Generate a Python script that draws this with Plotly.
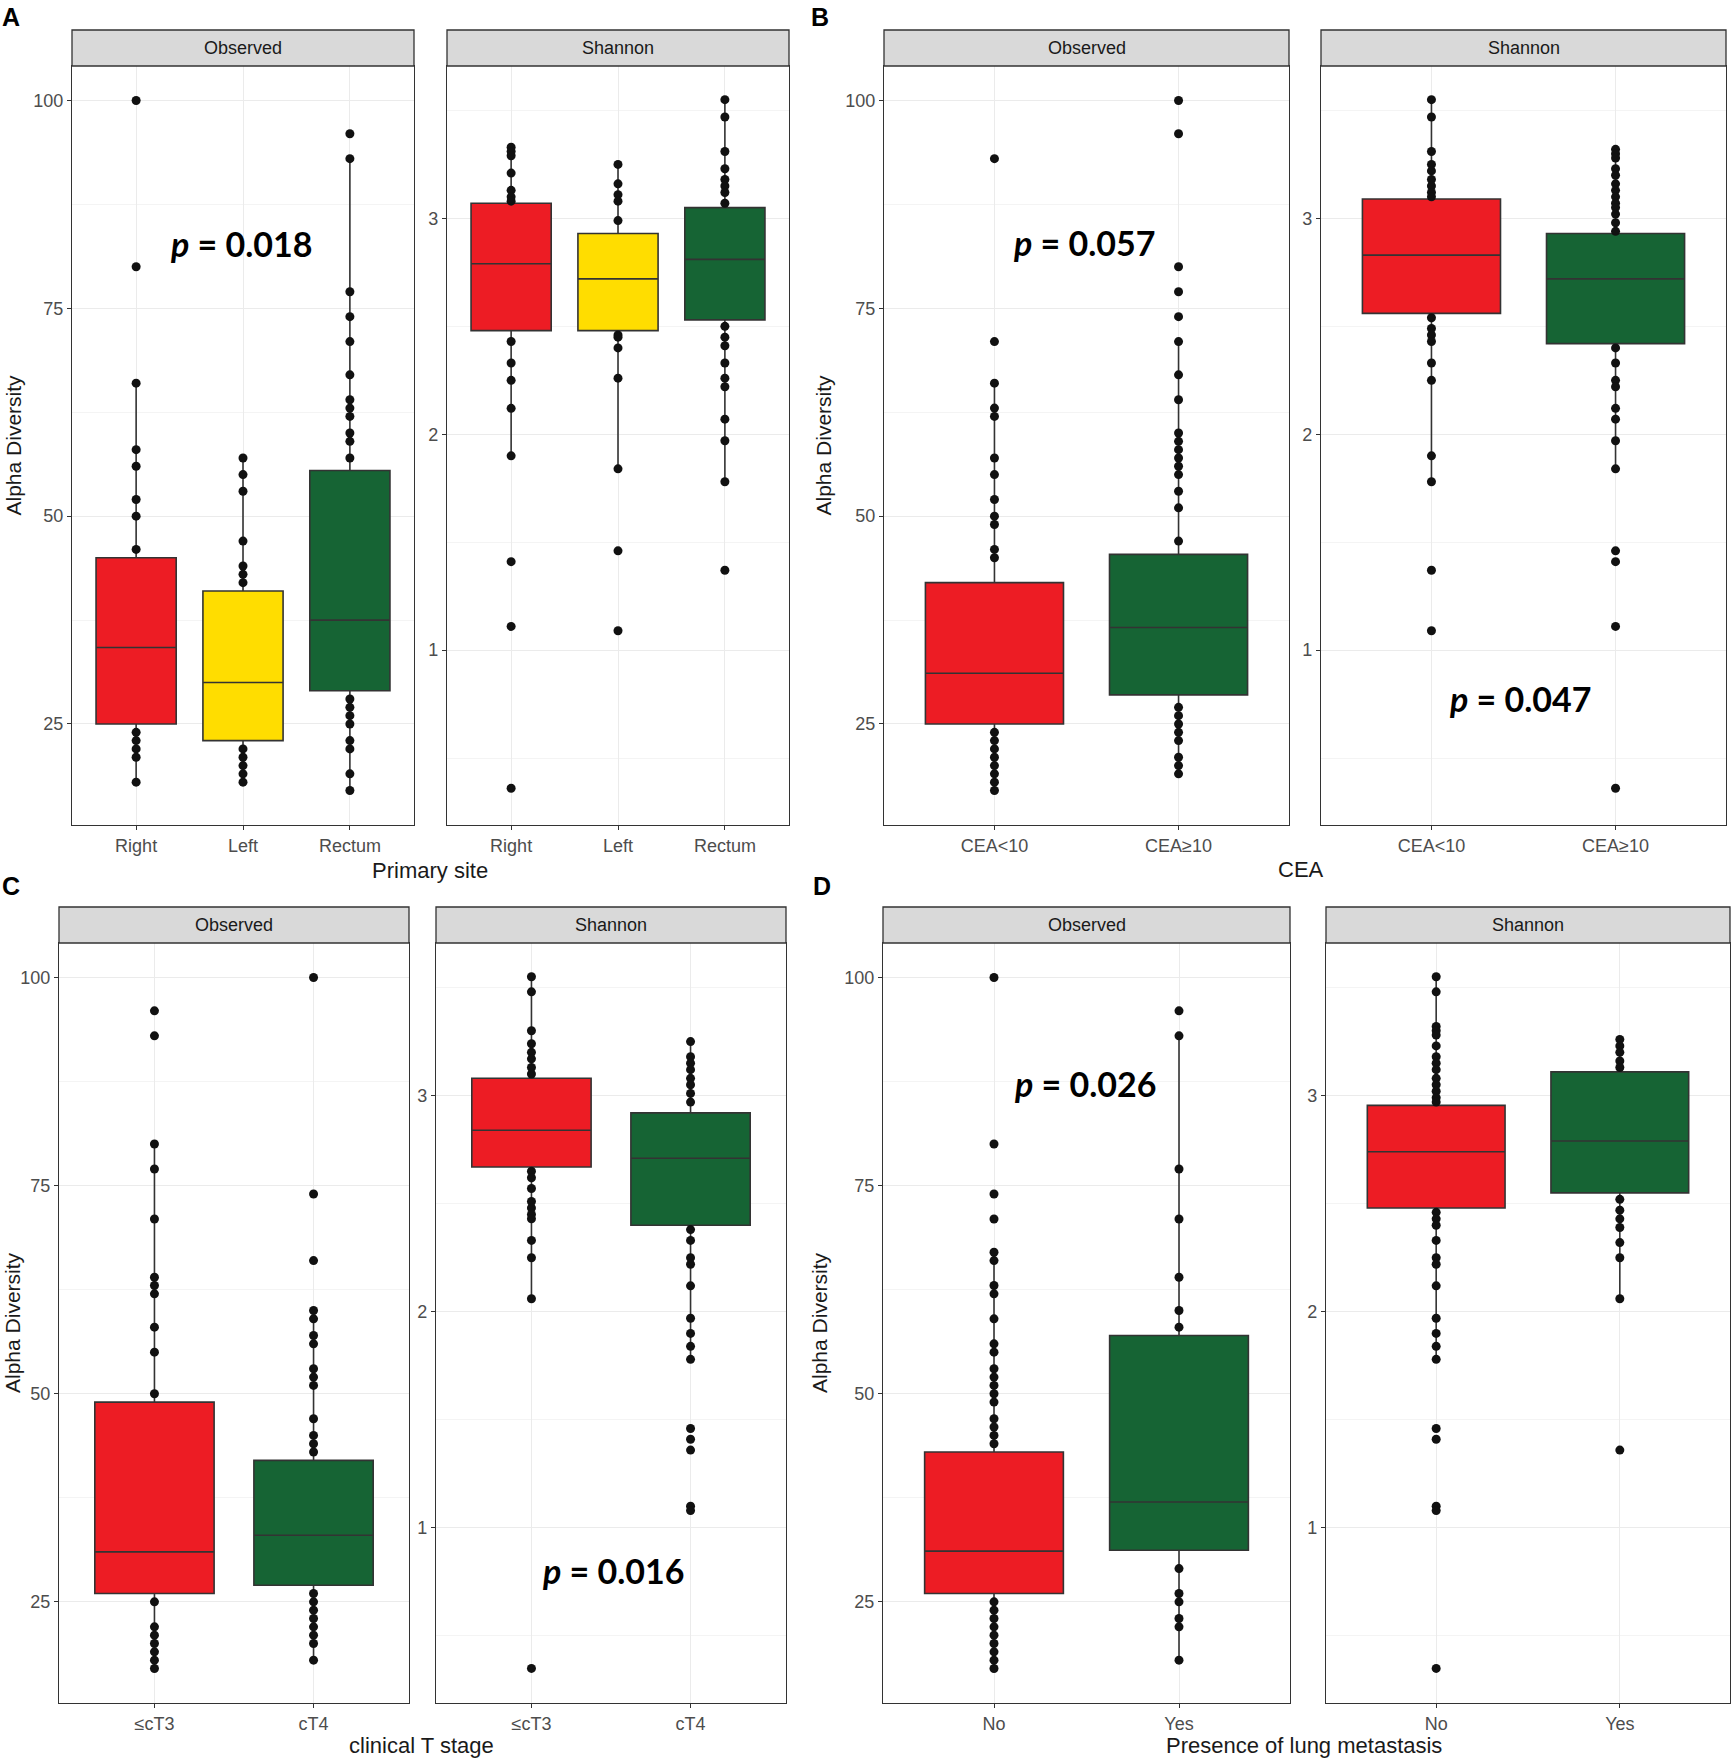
import plotly.graph_objects as go

# ---- data ----
# A: Primary site
a_cats = ["Right", "Left", "Rectum"]
a_obs_q1 = [25, 23, 29]
a_obs_med = [34.2, 30, 37.5]
a_obs_q3 = [45, 41, 55.5]
a_obs_lo = [18, 18, 17]
a_obs_hi = [66, 57, 93]
a_obs_pts = [
    [100, 80, 66, 58, 56, 52, 50, 46, 24, 23, 22, 21, 18],
    [57, 55, 53, 47, 44, 43, 42, 22, 21, 20, 19, 18],
    [96, 93, 77, 74, 71, 67, 64, 63, 62, 60, 59, 57, 28, 27, 26, 25, 23, 22, 19, 17],
]
a_sha_q1 = [2.48, 2.48, 2.53]
a_sha_med = [2.79, 2.72, 2.81]
a_sha_q3 = [3.07, 2.93, 3.05]
a_sha_lo = [1.90, 1.84, 1.78]
a_sha_hi = [3.33, 3.25, 3.55]
a_sha_pts = [
    [3.33, 3.31, 3.29, 3.21, 3.13, 3.10, 3.08, 2.43, 2.33, 2.25, 2.12, 1.90, 1.41, 1.11, 0.36],
    [3.25, 3.16, 3.11, 3.08, 2.99, 2.46, 2.45, 2.40, 2.26, 1.84, 1.46, 1.09],
    [3.55, 3.47, 3.31, 3.23, 3.18, 3.15, 3.12, 3.07, 2.50, 2.45, 2.41, 2.33, 2.26, 2.22,
     2.07, 1.97, 1.78, 1.37],
]

# B: CEA
b_cats = ["CEA<10", "CEA≥10"]
b_obs_q1 = [25, 28.5]
b_obs_med = [31.1, 36.6]
b_obs_q3 = [42, 45.4]
b_obs_lo = [17, 19]
b_obs_hi = [66, 71]
b_obs_pts = [
    [93, 71, 66, 63, 62, 57, 55, 52, 50, 49, 46, 45, 24, 23, 22, 21, 20, 19, 18, 17],
    [100, 96, 80, 77, 74, 71, 67, 64, 60, 59, 58, 57, 56, 55, 53, 51, 47, 27, 26, 25, 24,
     23, 21, 20, 19],
]
b_sha_q1 = [2.56, 2.42]
b_sha_med = [2.83, 2.72]
b_sha_q3 = [3.09, 2.93]
b_sha_lo = [1.78, 1.84]
b_sha_hi = [3.55, 3.32]
b_sha_pts = [
    [3.55, 3.47, 3.31, 3.25, 3.22, 3.18, 3.15, 3.12, 3.10, 2.54, 2.49, 2.46, 2.43, 2.33,
     2.25, 1.90, 1.78, 1.37, 1.09],
    [3.32, 3.30, 3.28, 3.23, 3.20, 3.16, 3.13, 3.10, 3.07, 3.05, 3.02, 2.98, 2.94, 2.40,
     2.33, 2.25, 2.22, 2.12, 2.07, 1.97, 1.84, 1.46, 1.41, 1.11, 0.36],
]

# C: clinical T stage
c_cats = ["≤cT3", "cT4"]
c_obs_q1 = [26, 27]
c_obs_med = [31, 33]
c_obs_q3 = [49, 42]
c_obs_lo = [17, 18]
c_obs_hi = [80, 60]
c_obs_pts = [
    [96, 93, 80, 77, 71, 64, 63, 62, 58, 55, 50, 25, 22, 21, 20, 19, 18, 17],
    [100, 74, 66, 60, 59, 57, 56, 53, 52, 51, 47, 45, 44, 43, 26, 25, 24, 23, 22, 21, 20, 18],
]
c_sha_q1 = [2.67, 2.40]
c_sha_med = [2.84, 2.71]
c_sha_q3 = [3.08, 2.92]
c_sha_lo = [2.06, 1.78]
c_sha_hi = [3.55, 3.25]
c_sha_pts = [
    [3.55, 3.48, 3.30, 3.24, 3.20, 3.17, 3.13, 3.10, 2.65, 2.62, 2.57, 2.51, 2.48, 2.45,
     2.43, 2.33, 2.25, 2.06, 0.35],
    [3.25, 3.18, 3.15, 3.12, 3.08, 3.05, 3.01, 2.97, 2.38, 2.33, 2.25, 2.22, 2.12, 1.97,
     1.90, 1.84, 1.78, 1.46, 1.41, 1.36, 1.10, 1.08],
]

# D: lung metastasis
d_cats = ["No", "Yes"]
d_obs_q1 = [26, 31.2]
d_obs_med = [31.1, 37]
d_obs_q3 = [43, 57]
d_obs_lo = [17, 18]
d_obs_hi = [67, 93]
d_obs_pts = [
    [100, 80, 74, 71, 67, 66, 63, 62, 59, 56, 55, 53, 52, 51, 50, 49, 47, 46, 45, 44, 25,
     24, 23, 22, 21, 20, 19, 18, 17],
    [96, 93, 77, 71, 64, 60, 58, 29, 26, 25, 23, 22, 18],
]
d_sha_q1 = [2.48, 2.55]
d_sha_med = [2.74, 2.79]
d_sha_q3 = [2.955, 3.11]
d_sha_lo = [1.78, 2.06]
d_sha_hi = [3.55, 3.26]
d_sha_pts = [
    [3.55, 3.48, 3.32, 3.30, 3.28, 3.23, 3.18, 3.15, 3.12, 3.08, 3.05, 3.02, 2.99, 2.97,
     2.46, 2.43, 2.40, 2.33, 2.25, 2.22, 2.12, 1.97, 1.90, 1.84, 1.78, 1.46, 1.41, 1.10,
     1.08, 0.35],
    [3.26, 3.23, 3.20, 3.16, 3.13, 2.52, 2.47, 2.43, 2.39, 2.32, 2.25, 2.06, 1.36],
]

p_labels = ["0.018", "0.057", "0.047", "0.016", "0.026"]
x_titles = ["Primary site", "CEA", "clinical T stage", "Presence of lung metastasis"]

RED, YELLOW, GREEN = "#ED1C24", "#FFDD00", "#166434"

# ---- layout geometry (pixels of the 1733x1762 page) ----
W, H = 1733, 1762


def px_x(v):
    return v / W


def px_y(v):
    return 1 - v / H


panels = [
    # cats, kind, stats, points, colors, x-left, x-right, strip top, plot top, plot bottom
    (a_cats, "Observed", (a_obs_q1, a_obs_med, a_obs_q3, a_obs_lo, a_obs_hi), a_obs_pts,
     [RED, YELLOW, GREEN], 72, 414, 30, 66, 825),
    (a_cats, "Shannon", (a_sha_q1, a_sha_med, a_sha_q3, a_sha_lo, a_sha_hi), a_sha_pts,
     [RED, YELLOW, GREEN], 447, 789, 30, 66, 825),
    (b_cats, "Observed", (b_obs_q1, b_obs_med, b_obs_q3, b_obs_lo, b_obs_hi), b_obs_pts,
     [RED, GREEN], 884, 1289, 30, 66, 825),
    (b_cats, "Shannon", (b_sha_q1, b_sha_med, b_sha_q3, b_sha_lo, b_sha_hi), b_sha_pts,
     [RED, GREEN], 1321, 1726, 30, 66, 825),
    (c_cats, "Observed", (c_obs_q1, c_obs_med, c_obs_q3, c_obs_lo, c_obs_hi), c_obs_pts,
     [RED, GREEN], 59, 409, 907, 943, 1703),
    (c_cats, "Shannon", (c_sha_q1, c_sha_med, c_sha_q3, c_sha_lo, c_sha_hi), c_sha_pts,
     [RED, GREEN], 436, 786, 907, 943, 1703),
    (d_cats, "Observed", (d_obs_q1, d_obs_med, d_obs_q3, d_obs_lo, d_obs_hi), d_obs_pts,
     [RED, GREEN], 883, 1290, 907, 943, 1703),
    (d_cats, "Shannon", (d_sha_q1, d_sha_med, d_sha_q3, d_sha_lo, d_sha_hi), d_sha_pts,
     [RED, GREEN], 1326, 1730, 907, 943, 1703),
]
ytitle_x = {1: 13, 3: 823, 5: 12, 7: 819}

fig = go.Figure()
layout = dict(
    width=W, height=H, margin=dict(l=0, r=0, t=0, b=0),
    paper_bgcolor="white", plot_bgcolor="white", showlegend=False,
    font=dict(family="Liberation Sans, Arial, sans-serif", color="#1A1A1A"),
    shapes=[], annotations=[],
)


def note(x, y, text, **kw):
    d = dict(x=px_x(x), y=px_y(y), xref="paper", yref="paper", text=text,
             showarrow=False, xanchor="center", yanchor="middle")
    d.update(kw)
    layout["annotations"].append(d)


for i, (cats, kind, stats, pts, cols, xl, xr, st, pt, pb) in enumerate(panels, start=1):
    xa, ya = f"x{i}", f"y{i}"
    q1, med, q3, lo, hi = stats
    for j, c in enumerate(cats):
        fig.add_trace(go.Box(
            x=[c], q1=[q1[j]], median=[med[j]], q3=[q3[j]],
            lowerfence=[lo[j]], upperfence=[hi[j]],
            fillcolor=cols[j], line=dict(color="#333333", width=1.6),
            width=0.75, whiskerwidth=0, boxpoints=False,
            xaxis=xa, yaxis=ya, showlegend=False,
        ))
        fig.add_trace(go.Scatter(
            x=[c] * len(pts[j]), y=pts[j], mode="markers",
            marker=dict(color="#111111", size=9),
            xaxis=xa, yaxis=ya, showlegend=False,
        ))

    if kind == "Observed":
        yrange, ticks, minor = [12.85, 104.15], [25, 50, 75, 100], [37.5, 62.5, 87.5]
    else:
        yrange, ticks, minor = [0.19, 3.706], [1, 2, 3], [0.5, 1.5, 2.5, 3.5]

    key = "" if i == 1 else str(i)
    layout["xaxis" + key] = dict(
        domain=[px_x(xl), px_x(xr)], anchor=ya, type="category",
        categoryorder="array", categoryarray=cats, range=[-0.6, len(cats) - 0.4],
        showline=True, mirror=True, linecolor="#333333", linewidth=1.3,
        showgrid=True, gridcolor="#EBEBEB", gridwidth=1.2, zeroline=False,
        ticks="outside", ticklen=4, tickcolor="#333333",
        tickfont=dict(size=18, color="#4D4D4D"),
    )
    layout["yaxis" + key] = dict(
        domain=[px_y(pb), px_y(pt)], anchor=xa, range=yrange, tickvals=ticks,
        showline=True, mirror=True, linecolor="#333333", linewidth=1.3,
        showgrid=True, gridcolor="#EBEBEB", gridwidth=1.2, zeroline=False,
        ticks="outside", ticklen=4, tickcolor="#333333",
        tickfont=dict(size=18, color="#4D4D4D"),
        minor=dict(tickvals=minor, showgrid=True, gridcolor="#F4F4F4", gridwidth=0.8, ticks=""),
    )

    # facet strip
    layout["shapes"].append(dict(
        type="rect", xref="paper", yref="paper",
        x0=px_x(xl), x1=px_x(xr), y0=px_y(pt), y1=px_y(st),
        fillcolor="#D9D9D9", line=dict(color="#333333", width=1.3),
    ))
    note((xl + xr) / 2, (st + pt) / 2, kind, font=dict(size=18, color="#1A1A1A"))
    if kind == "Observed":
        note(ytitle_x[i], (pt + pb) / 2, "Alpha Diversity", textangle=-90,
             font=dict(size=21, color="#1A1A1A"))

# panel letters
for letter, (lx, ly) in zip("ABCD", [(11, 17), (820, 17), (11, 886), (822, 886)]):
    note(lx, ly, f"<b>{letter}</b>", font=dict(size=25, color="black"))

# x titles
for t, (tx, ty) in zip(x_titles, [(430, 870), (1301, 869), (421, 1745), (1304, 1745)]):
    note(tx, ty, t, font=dict(size=22, color="#1A1A1A"))

# p values
for pv, (tx, ty) in zip(p_labels, [(242, 243), (1084, 242), (1520, 699), (613, 1570), (1085, 1083)]):
    note(tx, ty, f"<b><i>p</i> = {pv}</b>",
         font=dict(family="Lato, Open Sans, sans-serif", size=34, color="black"))

fig.update_layout(**layout)
fig.write_html(
    "out.html",
    config={"displayModeBar": False},
    post_script="document.body.style.margin='0';document.body.style.overflow='hidden';",
)
